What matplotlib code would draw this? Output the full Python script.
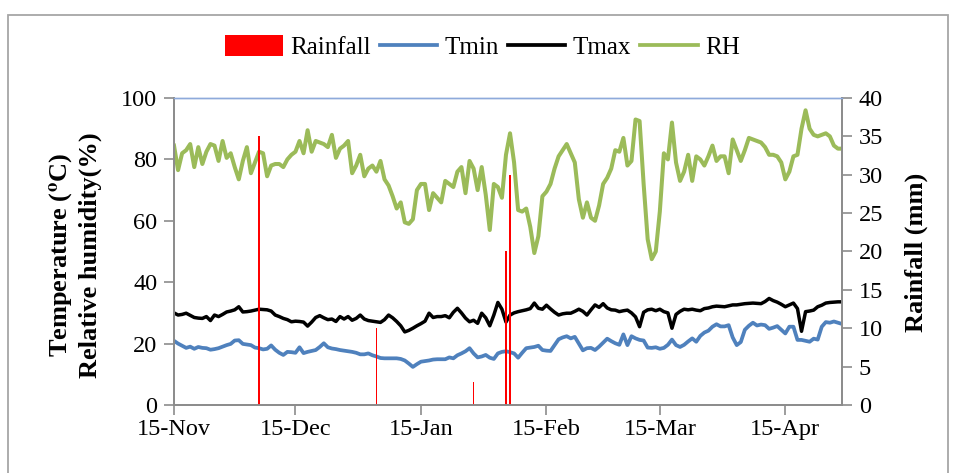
import matplotlib
matplotlib.use("Agg")
import matplotlib.pyplot as plt
import matplotlib.dates as mdates
from matplotlib.patches import Patch, Rectangle
from matplotlib.lines import Line2D
import pandas as pd

plt.rcParams["font.family"] = ["Liberation Serif", "DejaVu Serif"]
plt.rcParams["mathtext.fontset"] = "stix"

# ── Daily weather record, 15 Nov → 29 Apr ────────────────────────────────────
start_date = "2016-11-15"

rh = [
    84.5, 76.5, 82, 83, 85, 77.5, 84, 78.5, 82.5, 85,
    84.5, 79.5, 86, 80.5, 82, 77.5, 73.5, 79.5, 84, 75.5,
    79, 82.5, 82, 74.5, 78, 78.5, 78.5, 77.5, 80, 81.5,
    82.5, 86, 82, 89.5, 82.5, 86, 85.5, 85, 84, 88,
    80.5, 83.5, 84.5, 86, 75.5, 78, 81.5, 74.5, 77, 78,
    76, 79.5, 73.5, 71.5, 68, 64, 66, 59.5, 59, 60.5,
    70, 72, 72, 63.5, 69, 67.5, 66, 73, 72, 71,
    76, 77.5, 69, 79.5, 77, 70, 77.5, 68.5, 57, 72,
    71, 67.5, 81.5, 88.5, 79, 63.5, 63, 64, 58, 49.5,
    55, 68, 69.5, 72, 77, 81, 83, 85, 82, 79,
    67, 61, 66, 61, 60, 65, 72, 74, 77, 83,
    82.5, 87, 78, 79.5, 93, 92.5, 72, 54, 47.5, 50,
    63, 82, 80, 92, 79, 73, 76, 81.5, 73, 81,
    80, 78, 81, 84.5, 79.5, 81, 81, 75.5, 86.5, 83,
    79.5, 83, 87, 86.5, 86, 85.5, 84, 81.5, 81.5, 81,
    79, 73.5, 76, 81, 81.5, 90, 96, 90, 88, 87.5,
    88, 88.5, 87.5, 84.5, 83.5, 83.5,
]

tmax = [
    30, 29.3, 29.5, 29.9, 29.2, 28.5, 28.3, 28.2, 28.8, 27.5,
    29.3, 28.8, 29.5, 30.3, 30.6, 31, 32, 30.3, 30.4, 30.6,
    30.9, 31.2, 31.1, 31, 30.6, 29.3, 28.8, 28.2, 27.8, 27.1,
    27.3, 27.2, 27, 25.7, 27, 28.5, 29.1, 28.4, 27.8, 28,
    27.2, 28.8, 28, 28.8, 27.6, 28.2, 29.3, 28, 27.5, 27.3,
    27.1, 26.9, 27.8, 29.3, 28.4, 27.2, 25.8, 23.8, 24.3, 25,
    25.8, 26.5, 27.3, 29.9, 28.5, 28.8, 28.8, 29.1, 28.4, 30.2,
    31.5, 30, 28.3, 27.1, 27.6, 26.6, 29.9, 28.4, 25.8, 29.3,
    33.4, 31.2, 27, 29.3, 30, 30.4, 30.7, 31, 31.4, 33.2,
    31.5, 31.2, 32.5, 31.3, 30.2, 29.3, 29.7, 29.9, 29.9, 30.5,
    31.2, 30.5, 29.3, 31, 32.6, 31.8, 33, 31.6, 31, 30.9,
    30.4, 30.7, 30.9, 30, 28.7, 25.5, 30.2, 31, 31.2, 30.7,
    31.2, 30.4, 30, 25, 29.5, 30.5, 31.2, 31, 31.2, 30.9,
    30.7, 31.4, 31.6, 32, 32.2, 32.1, 32, 32.3, 32.6, 32.6,
    32.8, 33, 33.1, 33.2, 33.1, 33, 33.7, 34.7, 34, 33.5,
    32.8, 32, 32.6, 33.2, 31.4, 24, 30.4, 30.6, 30.9, 32,
    32.5, 33.2, 33.4, 33.5, 33.6, 33.6,
]

tmin = [
    20.9, 20, 19.3, 18.6, 19, 18.3, 18.9, 18.6, 18.5, 18,
    18.2, 18.5, 19, 19.5, 19.9, 21, 21.1, 19.9, 19.7, 19.5,
    18.7, 18.5, 18.1, 18.3, 19.4, 18, 17, 16.3, 17.3, 17.2,
    17, 18.8, 16.9, 17.3, 17.6, 17.9, 18.9, 20.1, 18.8, 18.4,
    18.2, 17.9, 17.7, 17.5, 17.3, 17, 16.5, 16.5, 16.8, 16.2,
    15.8, 15.3, 15.2, 15.2, 15.2, 15.2, 15, 14.5, 13.5, 12.4,
    13.3, 14.1, 14.3, 14.5, 14.8, 14.9, 14.9, 14.9, 15.5, 15.2,
    16.2, 16.8, 17.5, 18.5, 16.8, 15.5, 15.8, 16.3, 15.4, 15,
    16.8, 17.3, 17.5, 17.2, 16.8, 15.4, 17, 18.5, 18.7, 18.9,
    19.3, 17.9, 17.7, 17.6, 19.5, 21.4, 22, 22.4, 21.7, 22.2,
    20, 17.8, 18.5, 18.6, 17.9, 19, 20.3, 21.6, 20.8, 20.1,
    19.6, 23, 19.5, 22.4, 21.7, 21.2, 21, 18.7, 18.6, 18.8,
    18.3, 18.6, 19.6, 21.3, 19.5, 18.9, 19.6, 20.7, 21.7, 20.6,
    22.5, 23.6, 24.2, 25.5, 26.3, 25.6, 25.6, 26, 22, 19.5,
    20.5, 24.5, 25.8, 26.8, 25.9, 26.2, 26, 24.8, 25.2, 25.7,
    24.5, 23.3, 25.5, 25.5, 21.2, 21.2, 20.9, 20.6, 21.6, 21.3,
    25.5, 27, 26.8, 27.2, 26.8, 26.4,
]

rain_dates = ["2016-12-06", "2017-01-04", "2017-01-28", "2017-02-05", "2017-02-06"]
rain_mm = [35, 10, 3, 20, 30]

assert len(rh) == len(tmax) == len(tmin)
dates = pd.date_range(start_date, periods=len(rh), freq="D")
rain_x = pd.to_datetime(rain_dates)

# ── Figure ───────────────────────────────────────────────────────────────────
fig = plt.figure(figsize=(9.54, 4.73), dpi=100)
ax = fig.add_axes([0.1824, 0.1438, 0.7002, 0.6490])

# chart-area border
fig.patches.append(Rectangle((0.0084, -0.05), 0.9853, 1.018, transform=fig.transFigure,
                             fill=False, edgecolor="#a6a6a6", linewidth=1.3))

GREEN, BLUE, BLACK, RED = "#9bbb59", "#4f81bd", "#000000", "#ff0000"
AXIS_GREY = "#8c8c8c"

ax.plot(dates, tmin, color=BLUE, lw=2.7, solid_joinstyle="round")
ax.plot(dates, tmax, color=BLACK, lw=2.5, solid_joinstyle="round")
ax.plot(dates, rh, color=GREEN, lw=2.9, solid_joinstyle="round")

ax.set_ylim(0, 100)
ax.set_yticks(range(0, 101, 20))
ax.set_xlim(dates[0], dates[-1])
ax.xaxis.set_major_locator(mdates.MonthLocator(bymonthday=15))
ax.xaxis.set_major_formatter(mdates.DateFormatter("%d-%b"))

ax2 = ax.twinx()
ax2.bar(rain_x, rain_mm, width=0.38, color=RED, linewidth=0)
ax2.set_ylim(0, 40)
ax2.set_yticks(range(0, 41, 5))
ax2.set_xlim(dates[0], dates[-1])

for a in (ax, ax2):
    for side in ("left", "right", "bottom"):
        a.spines[side].set_color(AXIS_GREY)
        a.spines[side].set_linewidth(1.3)
    a.spines["top"].set_color("#8eaadb")
    a.spines["top"].set_linewidth(1.0)
    a.tick_params(axis="both", direction="out", length=7, width=1.2, color=AXIS_GREY,
                  labelsize=17.5, pad=5)
ax.tick_params(axis="x", pad=3)

fig.text(0.0786, 0.461, "Temperature ($^{\\mathbf{o}}$C)\nRelative humidity(%)",
         rotation=90, ha="center", va="center", fontsize=19, fontweight="bold",
         multialignment="center", linespacing=1.15)
fig.text(0.960, 0.467, "Rainfall (mm)", rotation=90, ha="center", va="center",
         fontsize=19, fontweight="bold")

handles = [
    Patch(facecolor=RED, edgecolor="none"),
    Line2D([], [], color=BLUE, lw=2.7),
    Line2D([], [], color=BLACK, lw=2.7),
    Line2D([], [], color=GREEN, lw=2.7),
]
fig.legend(handles, ["Rainfall", "Tmin", "Tmax", "RH"], loc="center",
           bbox_to_anchor=(0.506, 0.90), ncol=4, frameon=False, fontsize=18,
           handlelength=2.3, handleheight=0.9, handletextpad=0.3, columnspacing=0.35)

fig.savefig("out.png", dpi=100, facecolor="white")
